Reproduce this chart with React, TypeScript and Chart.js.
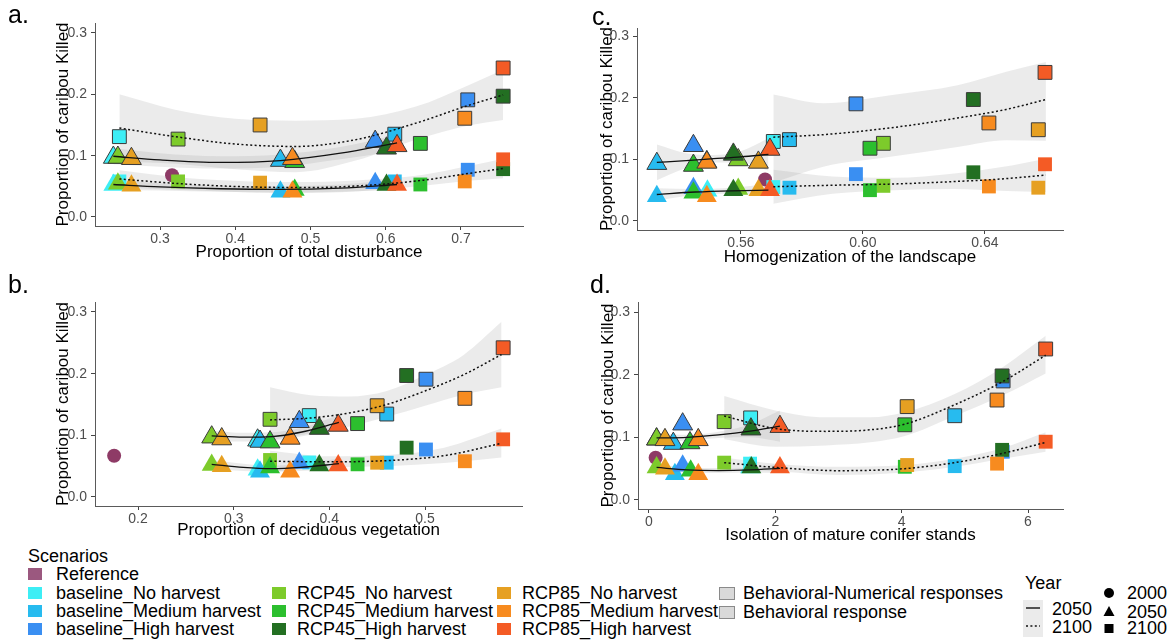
import React, { useEffect, useRef } from 'react';
import { Chart, registerables } from 'chart.js';

Chart.register(...registerables);

const FONT = "'Liberation Sans', Arial, Helvetica, sans-serif";
Chart.defaults.font.family = FONT;

// ---------------- data ----------------
const SCENARIOS = [
  'baseline_No harvest', 'baseline_Medium harvest', 'baseline_High harvest',
  'RCP45_No harvest', 'RCP45_Medium harvest', 'RCP45_High harvest',
  'RCP85_No harvest', 'RCP85_Medium harvest', 'RCP85_High harvest',
];
const SCENARIO_COLORS = ['#3DEEF5', '#27BBEF', '#3A8FF2', '#7DCB2B', '#2CBF2E', '#236F22', '#E6A022', '#F78B1F', '#F45B25'];
const REFERENCE_LABEL = 'Reference';
const REFERENCE_COLOR = '#8E3B66';
const RESPONSES = ['Behavioral-Numerical responses', 'Behavioral response'];
const LINE_YEARS = ['2050', '2100'];
const SHAPE_YEARS = ['2000', '2050', '2100'];

const Y_TICKS = [0, 0.1, 0.2, 0.3];
const Y_TICK_LABELS = ['0.0', '0.1', '0.2', '0.3'];
const Y_TITLE = 'Proportion of caribou Killed';

// Panel a — points are [x, y] in scenario order
const A_TITLE = 'Proportion of total disturbance';
const A_X_TICKS = [0.3, 0.4, 0.5, 0.6, 0.7];
const A_X_TICK_LABELS = ['0.3', '0.4', '0.5', '0.6', '0.7'];
const A_REFERENCE = [[0.316, 0.068]];
const A_BN_2050 = [[0.238, 0.097], [0.46, 0.092], [0.586, 0.123], [0.244, 0.097], [0.479, 0.09], [0.601, 0.112], [0.262, 0.095], [0.476, 0.095], [0.615, 0.116]];
const A_BN_2100 = [[0.246, 0.131], [0.612, 0.135], [0.709, 0.191], [0.324, 0.127], [0.646, 0.12], [0.756, 0.197], [0.433, 0.15], [0.705, 0.161], [0.756, 0.243]];
const A_B_2050 = [[0.238, 0.052], [0.46, 0.041], [0.586, 0.055], [0.244, 0.054], [0.479, 0.044], [0.601, 0.052], [0.262, 0.051], [0.476, 0.041], [0.615, 0.052]];
const A_B_2100 = [[0.246, 0.058], [0.612, 0.058], [0.709, 0.077], [0.324, 0.058], [0.646, 0.053], [0.756, 0.078], [0.433, 0.056], [0.705, 0.058], [0.756, 0.094]];
// fits: [x, fit, lower, upper]
const A_FIT_BN_2050 = [[0.238, 0.099, 0.086, 0.112], [0.3, 0.093, 0.082, 0.104], [0.38, 0.089, 0.079, 0.099], [0.46, 0.092, 0.082, 0.102], [0.54, 0.104, 0.094, 0.114], [0.615, 0.121, 0.108, 0.134]];
const A_FIT_BN_2100 = [[0.246, 0.145, 0.09, 0.2], [0.32, 0.131, 0.087, 0.175], [0.4, 0.119, 0.078, 0.16], [0.48, 0.115, 0.073, 0.157], [0.56, 0.126, 0.092, 0.16], [0.64, 0.153, 0.126, 0.18], [0.71, 0.182, 0.149, 0.215], [0.756, 0.199, 0.158, 0.24]];
const A_FIT_B_2050 = [[0.238, 0.053, 0.045, 0.061], [0.3, 0.049, 0.043, 0.055], [0.38, 0.046, 0.041, 0.051], [0.46, 0.045, 0.04, 0.05], [0.54, 0.047, 0.041, 0.053], [0.615, 0.053, 0.045, 0.061]];
const A_FIT_B_2100 = [[0.246, 0.062, 0.048, 0.076], [0.33, 0.054, 0.044, 0.064], [0.42, 0.049, 0.04, 0.058], [0.5, 0.048, 0.039, 0.057], [0.58, 0.052, 0.043, 0.061], [0.65, 0.06, 0.051, 0.069], [0.71, 0.071, 0.059, 0.083], [0.756, 0.079, 0.063, 0.095]];

// Panel b
const B_TITLE = 'Proportion of deciduous vegetation';
const B_X_TICKS = [0.2, 0.3, 0.4, 0.5];
const B_X_TICK_LABELS = ['0.2', '0.3', '0.4', '0.5'];
const B_REFERENCE = [[0.175, 0.067]];
const B_BN_2050 = [[0.325, 0.092], [0.3275, 0.09], [0.3686, 0.122], [0.277, 0.097], [0.338, 0.089], [0.3895, 0.111], [0.2875, 0.094], [0.359, 0.095], [0.4093, 0.116]];
const B_BN_2100 = [[0.379, 0.132], [0.46, 0.1345], [0.501, 0.191], [0.338, 0.126], [0.4295, 0.119], [0.4808, 0.197], [0.45, 0.148], [0.5417, 0.16], [0.5817, 0.242]];
const B_B_2050 = [[0.325, 0.044], [0.3275, 0.041], [0.3686, 0.055], [0.277, 0.052], [0.338, 0.048], [0.3895, 0.051], [0.2875, 0.05], [0.359, 0.041], [0.4093, 0.051]];
const B_B_2100 = [[0.379, 0.056], [0.46, 0.0556], [0.501, 0.077], [0.338, 0.06], [0.4295, 0.053], [0.4808, 0.08], [0.45, 0.0556], [0.5417, 0.058], [0.5817, 0.0935]];
const B_FIT_BN_2050 = [[0.277, 0.099, 0.09, 0.108], [0.31, 0.097, 0.09, 0.104], [0.34, 0.098, 0.091, 0.105], [0.37, 0.105, 0.098, 0.112], [0.41, 0.121, 0.109, 0.133]];
const B_FIT_BN_2100 = [[0.338, 0.125, 0.092, 0.178], [0.38, 0.128, 0.103, 0.165], [0.42, 0.136, 0.114, 0.163], [0.46, 0.15, 0.13, 0.172], [0.5, 0.172, 0.148, 0.198], [0.54, 0.198, 0.166, 0.23], [0.58, 0.231, 0.178, 0.284]];
const B_FIT_B_2050 = [[0.277, 0.053, 0.046, 0.06], [0.31, 0.048, 0.042, 0.054], [0.34, 0.046, 0.041, 0.051], [0.37, 0.048, 0.042, 0.054], [0.41, 0.054, 0.046, 0.062]];
const B_FIT_B_2100 = [[0.338, 0.058, 0.041, 0.075], [0.4, 0.057, 0.048, 0.066], [0.46, 0.059, 0.05, 0.068], [0.52, 0.067, 0.055, 0.08], [0.58, 0.087, 0.064, 0.111]];

// Panel c
const C_TITLE = 'Homogenization of the landscape';
const C_X_TICKS = [0.56, 0.6, 0.64];
const C_X_TICK_LABELS = ['0.56', '0.60', '0.64'];
const C_REFERENCE = [[0.5679, 0.0675]];
const C_BN_2050 = [[0.5488, 0.096], [0.5324, 0.093], [0.5444, 0.122], [0.5591, 0.099], [0.5444, 0.09], [0.5575, 0.108], [0.5657, 0.095], [0.5488, 0.095], [0.5695, 0.116]];
const C_BN_2100 = [[0.5706, 0.129], [0.5759, 0.132], [0.5977, 0.19], [0.6067, 0.126], [0.6023, 0.118], [0.6362, 0.197], [0.6575, 0.148], [0.6413, 0.159], [0.6597, 0.241]];
const C_B_2050 = [[0.549, 0.049], [0.5324, 0.04], [0.5444, 0.053], [0.5591, 0.052], [0.5444, 0.046], [0.5575, 0.05], [0.5657, 0.05], [0.5488, 0.04], [0.5695, 0.05]];
const C_B_2100 = [[0.5706, 0.055], [0.5759, 0.054], [0.5977, 0.076], [0.6067, 0.057], [0.6023, 0.05], [0.6362, 0.079], [0.6575, 0.054], [0.6413, 0.056], [0.6597, 0.092]];
const C_FIT_BN_2050 = [[0.5324, 0.095, 0.066, 0.124], [0.542, 0.098, 0.086, 0.11], [0.551, 0.101, 0.095, 0.107], [0.56, 0.104, 0.095, 0.113], [0.569, 0.108, 0.082, 0.134]];
const C_FIT_BN_2100 = [[0.5706, 0.136, 0.062, 0.205], [0.587, 0.14, 0.088, 0.191], [0.609, 0.151, 0.104, 0.204], [0.631, 0.167, 0.12, 0.22], [0.647, 0.181, 0.131, 0.242], [0.66, 0.197, 0.13, 0.258]];
const C_FIT_B_2050 = [[0.5324, 0.043, 0.033, 0.053], [0.545, 0.047, 0.042, 0.052], [0.557, 0.049, 0.044, 0.054], [0.569, 0.05, 0.04, 0.06]];
const C_FIT_B_2100 = [[0.5706, 0.0556, 0.028, 0.083], [0.59, 0.058, 0.044, 0.072], [0.61, 0.06, 0.05, 0.07], [0.63, 0.064, 0.052, 0.077], [0.645, 0.068, 0.049, 0.087], [0.66, 0.0745, 0.047, 0.101]];

// Panel d
const D_TITLE = 'Isolation of mature conifer stands';
const D_X_TICKS = [0, 2, 4, 6];
const D_X_TICK_LABELS = ['0', '2', '4', '6'];
const D_REFERENCE = [[0.105, 0.0675]];
const D_BN_2050 = [[0.12, 0.097], [0.385, 0.09], [0.533, 0.121], [0.12, 0.097], [0.649, 0.091], [1.614, 0.113], [0.253, 0.096], [0.78, 0.096], [2.073, 0.117]];
const D_BN_2100 = [[1.609, 0.131], [4.84, 0.1345], [5.606, 0.19], [1.19, 0.125], [4.05, 0.12], [5.59, 0.198], [4.087, 0.149], [5.51, 0.1595], [6.28, 0.241]];
const D_B_2050 = [[1.6, 0.052], [0.41, 0.041], [0.533, 0.0545], [0.12, 0.052], [0.66, 0.0465], [1.62, 0.052], [0.253, 0.05], [0.78, 0.041], [2.073, 0.052]];
const D_B_2100 = [[1.6, 0.058], [4.84, 0.054], [5.6, 0.077], [1.19, 0.0596], [4.05, 0.053], [5.59, 0.08], [4.087, 0.0558], [5.51, 0.058], [6.28, 0.093]];
const D_FIT_BN_2050 = [[0.12, 0.099, 0.091, 0.107], [0.6, 0.1, 0.095, 0.104], [1.1, 0.104, 0.099, 0.109], [1.6, 0.11, 0.1, 0.121], [2.073, 0.118, 0.093, 0.143]];
const D_FIT_BN_2100 = [[1.19, 0.134, 0.097, 0.166], [2.0, 0.114, 0.085, 0.143], [2.8, 0.1095, 0.087, 0.132], [3.5, 0.112, 0.092, 0.132], [4.05, 0.121, 0.102, 0.14], [4.84, 0.152, 0.134, 0.169], [5.6, 0.189, 0.167, 0.212], [6.28, 0.231, 0.202, 0.262]];
const D_FIT_B_2050 = [[0.12, 0.052, 0.046, 0.058], [0.6, 0.048, 0.044, 0.052], [1.1, 0.047, 0.043, 0.051], [1.6, 0.048, 0.044, 0.052], [2.073, 0.0505, 0.043, 0.058]];
const D_FIT_B_2100 = [[1.19, 0.0596, 0.051, 0.068], [2.0, 0.052, 0.046, 0.058], [3.0, 0.0468, 0.04, 0.053], [4.05, 0.05, 0.044, 0.056], [4.84, 0.0596, 0.053, 0.066], [5.6, 0.0744, 0.066, 0.083], [6.28, 0.092, 0.077, 0.108]];

// ---------------- layout (positions / styles) ----------------
const LAYOUT = {
  a: { left: 0, top: 0, width: 545, height: 266, pad: { left: 0, top: 23, right: 22, bottom: 0 }, yWidth: 95, xHeight: 40, yTitlePad: 52.8, xTitlePad: 3.8, xMin: 0.2136, xMax: 0.7824, yMin: -0.0147, yMax: 0.3163, labelLeft: 8, labelTop: 2 },
  b: { left: 0, top: 270, width: 545, height: 272, pad: { left: 0, top: 32, right: 23, bottom: 0 }, yWidth: 95, xHeight: 36, yTitlePad: 52.8, xTitlePad: 1.1, xMin: 0.155, xMax: 0.6014, yMin: -0.0146, yMax: 0.3162, labelLeft: 8, labelTop: 272 },
  c: { left: 580, top: 0, width: 520, height: 272, pad: { left: 0, top: 28, right: 37, bottom: 0 }, yWidth: 57, xHeight: 42, yTitlePad: 17.3, xTitlePad: 4.8, xMin: 0.5259, xMax: 0.6656, yMin: -0.0146, yMax: 0.313, labelLeft: 592, labelTop: 4 },
  d: { left: 580, top: 270, width: 520, height: 280, pad: { left: 0, top: 32, right: 37, bottom: 0 }, yWidth: 58, xHeight: 41, yTitlePad: 17.8, xTitlePad: 4.8, xMin: -0.174, xMax: 6.554, yMin: -0.0144, yMax: 0.316, labelLeft: 590, labelTop: 272 },
};

const PANELS = [
  { id: 'a', title: A_TITLE, xTicks: A_X_TICKS, xTickLabels: A_X_TICK_LABELS, ref: A_REFERENCE, bn2050: A_BN_2050, bn2100: A_BN_2100, b2050: A_B_2050, b2100: A_B_2100, fitBN2050: A_FIT_BN_2050, fitBN2100: A_FIT_BN_2100, fitB2050: A_FIT_B_2050, fitB2100: A_FIT_B_2100 },
  { id: 'b', title: B_TITLE, xTicks: B_X_TICKS, xTickLabels: B_X_TICK_LABELS, ref: B_REFERENCE, bn2050: B_BN_2050, bn2100: B_BN_2100, b2050: B_B_2050, b2100: B_B_2100, fitBN2050: B_FIT_BN_2050, fitBN2100: B_FIT_BN_2100, fitB2050: B_FIT_B_2050, fitB2100: B_FIT_B_2100 },
  { id: 'c', title: C_TITLE, xTicks: C_X_TICKS, xTickLabels: C_X_TICK_LABELS, ref: C_REFERENCE, bn2050: C_BN_2050, bn2100: C_BN_2100, b2050: C_B_2050, b2100: C_B_2100, fitBN2050: C_FIT_BN_2050, fitBN2100: C_FIT_BN_2100, fitB2050: C_FIT_B_2050, fitB2100: C_FIT_B_2100 },
  { id: 'd', title: D_TITLE, xTicks: D_X_TICKS, xTickLabels: D_X_TICK_LABELS, ref: D_REFERENCE, bn2050: D_BN_2050, bn2100: D_BN_2100, b2050: D_B_2050, b2100: D_B_2100, fitBN2050: D_FIT_BN_2050, fitBN2100: D_FIT_BN_2100, fitB2050: D_FIT_B_2050, fitB2100: D_FIT_B_2100 },
];

const BAND_FILL = 'rgba(153,153,153,0.2)';
const TRANSPARENT = 'rgba(0,0,0,0)';

function buildDatasets(p) {
  const ds = [];
  const xy = (rows, k) => rows.map((r) => ({ x: r[0], y: r[k] }));
  const fits = [
    [p.fitBN2050, false], [p.fitBN2100, true], [p.fitB2050, false], [p.fitB2100, true],
  ];
  // fitted lines (on top)
  for (const [rows, dashed] of fits) {
    ds.push({
      type: 'line', data: xy(rows, 1), borderColor: '#111', borderWidth: dashed ? 1.5 : 1.3,
      borderDash: dashed ? [2, 2.4] : [], pointRadius: 0, fill: false,
      cubicInterpolationMode: 'monotone', order: 0,
    });
  }
  const pts = (rows, style, radius, bordered) => ({
    type: 'scatter', data: xy(rows, 1), pointStyle: style, pointRadius: radius,
    pointBackgroundColor: SCENARIO_COLORS, pointBorderColor: bordered ? '#3a3a3a' : SCENARIO_COLORS,
    pointBorderWidth: bordered ? 1 : 0, order: 1,
  });
  ds.push(pts(p.bn2050, 'triangle', 11.5, true));
  ds.push(pts(p.b2050, 'triangle', 11.5, false));
  ds.push(pts(p.bn2100, 'rect', 9.8, true));
  ds.push(pts(p.b2100, 'rect', 9.8, false));
  ds.push({
    type: 'scatter', data: xy(p.ref, 1), pointStyle: 'circle', pointRadius: 7,
    pointBackgroundColor: REFERENCE_COLOR, pointBorderColor: REFERENCE_COLOR, pointBorderWidth: 0, order: 1,
  });
  // confidence bands (bottom)
  for (const [rows] of fits) {
    ds.push({
      type: 'line', data: xy(rows, 2), borderColor: TRANSPARENT, borderWidth: 0, pointRadius: 0,
      fill: false, cubicInterpolationMode: 'monotone', order: 2,
    });
    ds.push({
      type: 'line', data: xy(rows, 3), borderColor: TRANSPARENT, borderWidth: 0, pointRadius: 0,
      fill: '-1', backgroundColor: BAND_FILL, cubicInterpolationMode: 'monotone', order: 2,
    });
  }
  return ds;
}

function makeConfig(p) {
  const L = LAYOUT[p.id];
  const grid = { display: true, drawOnChartArea: false, drawTicks: true, tickLength: 4, color: '#444', lineWidth: 1 };
  const border = { display: true, color: '#5a5a5a', width: 1 };
  const tickFont = { size: 14, family: FONT };
  const titleFont = { size: 17, family: FONT };
  return {
    type: 'scatter',
    data: { datasets: buildDatasets(p) },
    options: {
      animation: false,
      responsive: false,
      maintainAspectRatio: false,
      devicePixelRatio: 1,
      layout: { padding: L.pad },
      plugins: { legend: { display: false }, tooltip: { enabled: false } },
      scales: {
        x: {
          type: 'linear', min: L.xMin, max: L.xMax,
          afterBuildTicks: (s) => { s.ticks = p.xTicks.map((v) => ({ value: v })); },
          afterFit: (s) => { s.height = L.xHeight; },
          ticks: { callback: (v, i) => p.xTickLabels[i], font: tickFont, color: '#4D4D4D', padding: 1, autoSkip: false, maxRotation: 0 },
          grid, border,
          title: { display: true, text: p.title, color: '#000', font: titleFont, padding: { top: 0, bottom: L.xTitlePad } },
        },
        y: {
          type: 'linear', min: L.yMin, max: L.yMax,
          afterBuildTicks: (s) => { s.ticks = Y_TICKS.map((v) => ({ value: v })); },
          afterFit: (s) => { s.width = L.yWidth; },
          ticks: { callback: (v, i) => Y_TICK_LABELS[i], font: tickFont, color: '#4D4D4D', padding: 4, autoSkip: false },
          grid, border,
          title: { display: true, text: Y_TITLE, color: '#000', font: titleFont, padding: { top: L.yTitlePad, bottom: 0 } },
        },
      },
    },
  };
}

function Panel({ p }) {
  const ref = useRef(null);
  const L = LAYOUT[p.id];
  useEffect(() => {
    const chart = new Chart(ref.current, makeConfig(p));
    return () => chart.destroy();
  }, []);
  return (
    <>
      <canvas ref={ref} width={L.width} height={L.height}
        style={{ position: 'absolute', left: L.left, top: L.top, width: L.width, height: L.height }} />
      <div style={{ position: 'absolute', left: L.labelLeft, top: L.labelTop, fontSize: 25, lineHeight: '25px', color: '#000' }}>{p.id}.</div>
    </>
  );
}

const LEG_FONT = 18;
function Txt({ left, center, children }) {
  return (
    <div style={{ position: 'absolute', left, top: center - 9, fontSize: LEG_FONT, lineHeight: '18px', whiteSpace: 'nowrap', color: '#000' }}>{children}</div>
  );
}
function Swatch({ left, center, color }) {
  return <div style={{ position: 'absolute', left, top: center - 6, width: 14, height: 12, background: color }} />;
}

function Legend() {
  const swLeft = [28, 272, 497];
  const txLeft = [56, 297, 522];
  const rows = [593, 611, 629];
  return (
    <>
      <Txt left={28} center={556}>Scenarios</Txt>
      <Swatch left={28} center={574} color="#9B587F" />
      <Txt left={56} center={574}>{REFERENCE_LABEL}</Txt>
      {SCENARIOS.map((s, i) => (
        <React.Fragment key={s}>
          <Swatch left={swLeft[Math.floor(i / 3)]} center={rows[i % 3]} color={SCENARIO_COLORS[i]} />
          <Txt left={txLeft[Math.floor(i / 3)]} center={rows[i % 3]}>{s}</Txt>
        </React.Fragment>
      ))}
      {RESPONSES.map((r, i) => (
        <React.Fragment key={r}>
          <div style={{ position: 'absolute', left: 719, top: [593, 612][i] - 6, width: 14, height: 11, background: '#d9d9d9', border: '1px solid #8a8a8a' }} />
          <Txt left={743} center={[593, 612][i]}>{r}</Txt>
        </React.Fragment>
      ))}
      <Txt left={1025} center={583}>Year</Txt>
      <div style={{ position: 'absolute', left: 1023, top: 600, width: 20, height: 37, background: '#ebebeb' }} />
      <svg style={{ position: 'absolute', left: 1023, top: 600 }} width={20} height={37}>
        <line x1={3} x2={17} y1={8} y2={8} stroke="#111" strokeWidth={1.4} />
        <line x1={3} x2={17} y1={26} y2={26} stroke="#111" strokeWidth={1.5} strokeDasharray="2 2.4" />
      </svg>
      {LINE_YEARS.map((y, i) => <Txt key={y} left={1052} center={[609, 627][i]}>{y}</Txt>)}
      <svg style={{ position: 'absolute', left: 1100, top: 584 }} width={20} height={54}>
        <circle cx={9} cy={9} r={5} fill="#000" />
        <polygon points="9,22 14.5,32 3.5,32" fill="#000" />
        <rect x={4.5} y={40} width={9} height={9} fill="#000" />
      </svg>
      {SHAPE_YEARS.map((y, i) => <Txt key={y} left={1127} center={[593, 612, 628][i]}>{y}</Txt>)}
    </>
  );
}

export default function App() {
  return (
    <div style={{ position: 'absolute', left: 0, top: 0, width: 1173, height: 642, background: '#fff', overflow: 'hidden', fontFamily: FONT }}>
      {PANELS.map((p) => <Panel key={p.id} p={p} />)}
      <Legend />
    </div>
  );
}
